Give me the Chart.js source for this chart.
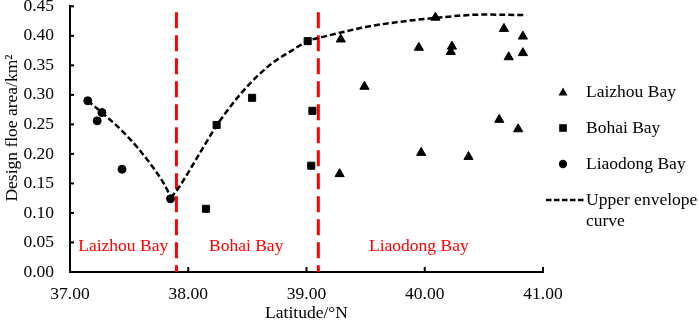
<!DOCTYPE html>
<html><head><meta charset="utf-8">
<script src="https://cdn.jsdelivr.net/npm/chart.js@4.4.0/dist/chart.umd.min.js"></script>
<style>
html,body{margin:0;padding:0;background:#fff;}
#wrap{position:relative;width:699px;height:322px;overflow:hidden;}
.leg{position:absolute;font-family:'Liberation Serif','Times New Roman',serif;font-size:17.5px;color:#000;line-height:21px;white-space:nowrap;}
.sym{position:absolute;line-height:0;}
.sym svg{display:block;}
</style></head><body>
<div id="wrap"><canvas id="c" width="699" height="322"></canvas><div id="legend"></div></div>
<script>
// ---- data ----
const laizhouLat  = [39.29, 39.49, 39.28, 39.95, 39.97, 40.09, 40.23, 40.22, 40.37, 40.67, 40.83, 40.71, 40.83, 40.63, 40.79];
const laizhouArea = [0.394, 0.314, 0.166, 0.380, 0.202, 0.431, 0.382, 0.373, 0.195, 0.412, 0.399, 0.364, 0.371, 0.258, 0.242];
const bohaiLat    = [38.15, 38.24, 38.54, 39.01, 39.05, 39.04];
const bohaiArea   = [0.107, 0.249, 0.295, 0.391, 0.273, 0.180];
const liaodongLat  = [37.15, 37.27, 37.23, 37.44, 37.85];
const liaodongArea = [0.290, 0.270, 0.256, 0.174, 0.124];
// upper envelope curve (two branches meeting at the minimum)
const envLeftLat   = [37.15, 37.27, 37.48, 37.65, 37.79, 37.855];
const envLeftArea  = [0.290, 0.270, 0.231, 0.191, 0.151, 0.126];
const envRightLat  = [37.855, 37.92, 38.085, 38.24, 38.395, 38.536, 38.706, 38.875, 39.01, 39.156, 39.30, 39.50, 39.80, 40.07, 40.50, 40.86];
const envRightArea = [0.126, 0.143, 0.197, 0.248, 0.290, 0.322, 0.353, 0.375, 0.391, 0.399, 0.406, 0.415, 0.424, 0.430, 0.436, 0.435];
// region boundaries
const boundaryLat = [37.90, 39.10];
const boundaryTop = 0.44;
// region labels
const regionNames = ['Laizhou Bay', 'Bohai Bay', 'Liaodong Bay'];
const regionLat   = [37.45, 38.49, 39.95];
const regionArea  = 0.043;
// legend names, axis titles, ticks
const seriesNames = ['Laizhou Bay', 'Bohai Bay', 'Liaodong Bay', 'Upper envelope curve'];
const xTitle = 'Latitude/°N';
const yTitle = 'Design floe area/km²';
const xTicks = [37, 38, 39, 40, 41];
const yTicks = [0, 0.05, 0.10, 0.15, 0.20, 0.25, 0.30, 0.35, 0.40, 0.45];

const FONT = "'Liberation Serif','Times New Roman',serif";
const FS = 17.5;
const zip = (a, b) => a.map((v, i) => ({x: v, y: b[i]}));

const datasets = [
  {label: seriesNames[0], type: 'scatter', data: zip(laizhouLat, laizhouArea), pointStyle: 'triangle', pointRadius: 5.3, backgroundColor: '#000', borderColor: '#000', borderWidth: 1},
  {label: seriesNames[1], type: 'scatter', data: zip(bohaiLat, bohaiArea), pointStyle: 'rect', pointRadius: 5, backgroundColor: '#000', borderColor: '#000', borderWidth: 1},
  {label: seriesNames[2], type: 'scatter', data: zip(liaodongLat, liaodongArea), pointStyle: 'circle', pointRadius: 4, backgroundColor: '#000', borderColor: '#000', borderWidth: 1},
  {label: seriesNames[3], type: 'line', data: zip(envLeftLat, envLeftArea), borderColor: '#000', borderWidth: 2.5, borderDash: [6, 3], pointRadius: 0, cubicInterpolationMode: 'monotone', fill: false},
  {label: seriesNames[3] + ' 2', type: 'line', data: zip(envRightLat, envRightArea), borderColor: '#000', borderWidth: 2.5, borderDash: [6, 3], pointRadius: 0, cubicInterpolationMode: 'monotone', fill: false},
];
boundaryLat.forEach((b, i) => datasets.push({label: 'boundary' + i, type: 'line', data: [{x: b, y: boundaryTop}, {x: b, y: 0}], borderColor: '#ff0000', borderWidth: 3, borderDash: [16, 7], pointRadius: 0, tension: 0, fill: false}));

const extras = {
  id: 'extras',
  afterDraw(chart) {
    const ctx = chart.ctx, xs = chart.scales.x, ys = chart.scales.y;
    ctx.save();
    ctx.strokeStyle = '#000'; ctx.lineWidth = 2;
    xTicks.slice(1).forEach(v => { const px = xs.getPixelForValue(v); ctx.beginPath(); ctx.moveTo(px, ys.bottom); ctx.lineTo(px, ys.bottom - 5); ctx.stroke(); });
    yTicks.slice(1).forEach(v => { const py = ys.getPixelForValue(v); ctx.beginPath(); ctx.moveTo(xs.left, py); ctx.lineTo(xs.left + 4, py); ctx.stroke(); });
    ctx.fillStyle = '#ff0000'; ctx.font = FS + 'px ' + FONT; ctx.textAlign = 'center'; ctx.textBaseline = 'middle';
    regionNames.forEach((n, i) => ctx.fillText(n, xs.getPixelForValue(regionLat[i]), ys.getPixelForValue(regionArea)));
    // y axis title
    ctx.fillStyle = '#000';
    ctx.translate(12, 128); ctx.rotate(-Math.PI / 2);
    ctx.fillText(yTitle, 0, 0);
    ctx.restore();
  }
};

new Chart(document.getElementById('c'), {
  type: 'scatter',
  data: {datasets},
  options: {
    responsive: false, animation: false,
    layout: {padding: {top: 0, right: 156, left: 0, bottom: 0}},
    plugins: {legend: {display: false}, tooltip: {enabled: false}},
    scales: {
      x: {type: 'linear', min: 37, max: 41,
          afterBuildTicks: s => { s.ticks = xTicks.map(v => ({value: v})); },
          afterFit: s => { s.height = 50; s.paddingLeft = 0; s.paddingRight = 0; },
          grid: {display: false, drawTicks: false}, border: {display: true, color: '#000', width: 2},
          ticks: {color: '#000', font: {family: FONT, size: FS}, padding: 12, maxRotation: 0, callback: v => Number(v).toFixed(2)},
          title: {display: true, text: xTitle, color: '#000', font: {family: FONT, size: FS, lineHeight: 1.0}, padding: {top: 0, bottom: 0}}},
      y: {type: 'linear', min: 0, max: 0.45,
          afterBuildTicks: s => { s.ticks = yTicks.map(v => ({value: v})); },
          afterFit: s => { s.width = 70; s.paddingTop = 0; s.paddingBottom = 0; },
          grid: {display: false, drawTicks: false}, border: {display: true, color: '#000', width: 2},
          ticks: {color: '#000', font: {family: FONT, size: FS}, padding: 16, callback: v => Number(v).toFixed(2)},
          title: {display: false}}
    }
  },
  plugins: [extras]
});

// HTML legend
const legend = document.getElementById('legend');
const symX = 563, textX = 586, rowY = [92, 128, 164, 200];
const svgs = [
  '<svg width="12" height="12" viewBox="0 0 12 12"><polygon points="6,1.5 10.5,9.5 1.5,9.5" fill="#000"/></svg>',
  '<svg width="12" height="12" viewBox="0 0 12 12"><rect x="2.2" y="2.2" width="7.6" height="7.6" fill="#000"/></svg>',
  '<svg width="12" height="12" viewBox="0 0 12 12"><circle cx="6" cy="6" r="4.2" fill="#000"/></svg>'
];
seriesNames.forEach((n, i) => {
  const s = document.createElement('div'); s.className = 'sym';
  if (i < 3) {
    s.style.left = (symX - 6) + 'px'; s.style.top = (rowY[i] - 6) + 'px'; s.innerHTML = svgs[i];
  } else {
    s.style.left = '546px'; s.style.top = (rowY[i] - 2) + 'px';
    s.innerHTML = '<svg width="38" height="4"><line x1="0" y1="2" x2="38" y2="2" stroke="#000" stroke-width="2.5" stroke-dasharray="5.5,2.5"/></svg>';
  }
  legend.appendChild(s);
  const t = document.createElement('div'); t.className = 'leg';
  t.style.left = textX + 'px'; t.style.top = (rowY[i] - 11) + 'px';
  t.innerHTML = i === 3 ? 'Upper envelope<br>curve' : n;
  legend.appendChild(t);
});
</script>
</body></html>
